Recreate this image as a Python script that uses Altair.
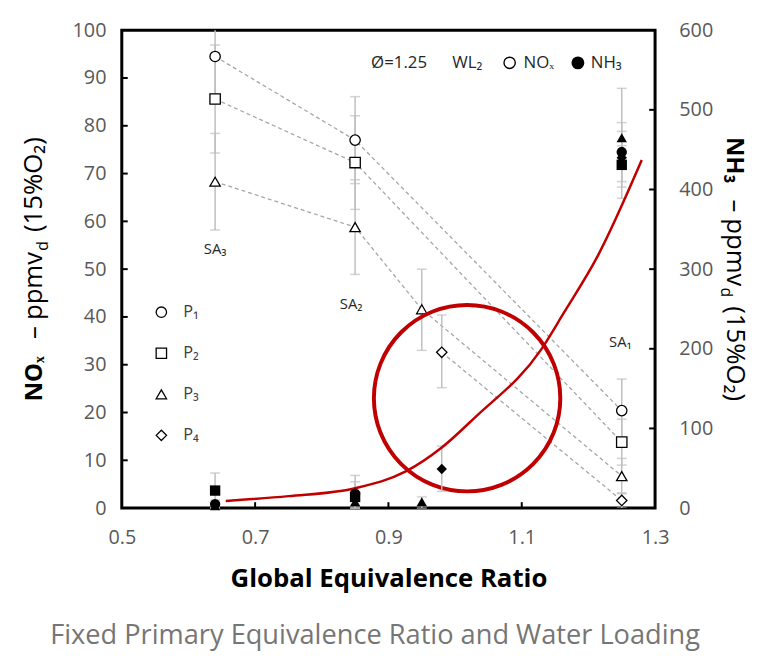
import altair as alt
import pandas as pd

FONT = "Open Sans"

# ---------------- data ----------------
series_names = ["P₁", "P₂", "P₃", "P₄"]
series_shapes = ["circle", "square", "triangle-up", "diamond"]

# NOx (left axis) - open markers
p1_phi = [0.64, 0.85, 1.25]
p1_nox = [94.5, 77.0, 20.4]
p1_nox_lo = [85.5, 67.9, 13.8]
p1_nox_hi = [103.5, 86.1, 27.0]

p2_phi = [0.64, 0.85, 1.25]
p2_nox = [85.6, 72.3, 13.8]
p2_nox_lo = [74.3, 62.5, 9.0]
p2_nox_hi = [96.9, 82.1, 18.6]

p3_phi = [0.64, 0.85, 0.95, 1.25]
p3_nox = [68.3, 58.8, 41.6, 6.7]
p3_nox_lo = [58.2, 48.9, 33.0, 3.0]
p3_nox_hi = [78.4, 68.7, 50.0, 10.4]

p4_phi = [0.98, 1.25]
p4_nox = [32.6, 1.6]
p4_nox_lo = [25.2, 0.0]
p4_nox_hi = [40.4, 3.2]

# NH3 (right axis) - filled markers
p1_nh3 = [5, 18, 447]
p1_nh3_lo = [0, 0, 410]
p1_nh3_hi = [10, 41, 484]

p2_nh3 = [22, 14, 431]
p2_nh3_lo = [0, 0, 389]
p2_nh3_hi = [44, 33, 473]

p3_nh3 = [3, 8, 8, 465]
p3_nh3_lo = [0, 0, 0, 403]
p3_nh3_hi = [6, 16, 14, 527]

p4_nh3 = [49, 440]
p4_nh3_lo = [21, 425]
p4_nh3_hi = [78, 455]

# red NH3 trend curve
trend_phi = [0.656, 0.75, 0.85, 0.926, 0.98, 1.03, 1.129, 1.163, 1.213, 1.28]
trend_nh3 = [9, 15, 25, 46, 76, 114, 199, 245, 315, 437]

# highlighted region (red circle)
ring_phi = [1.018]
ring_nox = [23.0]

# stage labels
stage_labels = ["SA₃", "SA₂", "SA₁"]
stage_phi = [0.64, 0.844, 1.248]
stage_nox = [54.2, 42.8, 34.7]

x_ticks = [0.5, 0.7, 0.9, 1.1, 1.3]
left_ticks = list(range(0, 101, 10))
right_ticks = list(range(0, 601, 100))

caption = "Fixed Primary Equivalence Ratio and Water Loading"

# ---------------- tables ----------------
phis = [p1_phi, p2_phi, p3_phi, p4_phi]
nox = [p1_nox, p2_nox, p3_nox, p4_nox]
nox_lo = [p1_nox_lo, p2_nox_lo, p3_nox_lo, p4_nox_lo]
nox_hi = [p1_nox_hi, p2_nox_hi, p3_nox_hi, p4_nox_hi]
nh3 = [p1_nh3, p2_nh3, p3_nh3, p4_nh3]
nh3_lo = [p1_nh3_lo, p2_nh3_lo, p3_nh3_lo, p4_nh3_lo]
nh3_hi = [p1_nh3_hi, p2_nh3_hi, p3_nh3_hi, p4_nh3_hi]

rows = []
for i, name in enumerate(series_names):
    for j, ph in enumerate(phis[i]):
        rows.append(dict(series=name, phi=ph,
                         nox=nox[i][j], nox_lo=nox_lo[i][j], nox_hi=nox_hi[i][j],
                         nh3=nh3[i][j], nh3_lo=nh3_lo[i][j], nh3_hi=nh3_hi[i][j]))
df = pd.DataFrame(rows)
df_trend = pd.DataFrame({"phi": trend_phi, "nh3": trend_nh3})
df_ring = pd.DataFrame({"phi": ring_phi, "nox": ring_nox})
df_stage = pd.DataFrame({"label": stage_labels, "phi": stage_phi, "nox": stage_nox})
df_xt = pd.DataFrame({"phi": x_ticks[1:-1]})
df_lt = pd.DataFrame({"nox": left_ticks[1:-1]})
df_rt = pd.DataFrame({"nh3": right_ticks[1:-1]})

W, H = 539, 483
LABEL_COLOR = "#595959"
GRAY_BAR = "#BFBFBF"
RED = "#C00000"
TICK_FS = 20

x_scale = alt.Scale(domain=[0.5, 1.3], nice=False, zero=False)
x_axis = alt.Axis(values=x_ticks, format=".1f", title="Global Equivalence Ratio",
                  ticks=False, domain=False, grid=False, labelFlush=False,
                  labelFont=FONT, labelFontSize=TICK_FS, labelColor=LABEL_COLOR, labelPadding=20,
                  titleFont=FONT, titleFontSize=26, titleFontWeight="bold",
                  titleColor="black", titlePadding=18)
yl_scale = alt.Scale(domain=[0, 100], nice=False, zero=True)
yl_axis = alt.Axis(orient="left", values=left_ticks, title=None, ticks=False, domain=False,
                   grid=False, labelFont=FONT, labelFontSize=TICK_FS, labelColor=LABEL_COLOR,
                   labelPadding=16)
yr_scale = alt.Scale(domain=[0, 600], nice=False, zero=True)
yr_axis = alt.Axis(orient="right", values=right_ticks, title=None, ticks=False, domain=False,
                   grid=False, labelFont=FONT, labelFontSize=TICK_FS, labelColor=LABEL_COLOR,
                   labelPadding=24)

X = lambda f="phi": alt.X(f"{f}:Q", scale=x_scale, axis=x_axis)
YL = lambda f: alt.Y(f"{f}:Q", scale=yl_scale, axis=yl_axis)
YR = lambda f: alt.Y(f"{f}:Q", scale=yr_scale, axis=yr_axis)

shape_scale = alt.Scale(domain=series_names, range=series_shapes)

base = alt.Chart(df)

# ----- NOx (left) group -----
dashed = base.mark_line(color="#A6A6A6", strokeWidth=1.3, strokeDash=[4, 3]).encode(
    x=X(), y=YL("nox"), detail="series:N", order="phi:Q")
nox_bar = base.mark_rule(color=GRAY_BAR, strokeWidth=1.5, clip=True).encode(
    x=X(), y=YL("nox_lo"), y2="nox_hi:Q")
nox_cap_lo = base.mark_point(shape="stroke", size=100, color=GRAY_BAR, strokeWidth=1.5,
                             clip=True).encode(x=X(), y=YL("nox_lo"))
nox_cap_hi = base.mark_point(shape="stroke", size=100, color=GRAY_BAR, strokeWidth=1.5,
                             clip=True).encode(x=X(), y=YL("nox_hi"))
nox_pts = base.mark_point(filled=False, fill="white", stroke="black", strokeWidth=1.3,
                          size=110, opacity=1).encode(
    x=X(), y=YL("nox"),
    shape=alt.Shape("series:N", scale=shape_scale, legend=None))
stage_txt = alt.Chart(df_stage).mark_text(font=FONT, fontSize=15, color="#262626",
                                          align="center", baseline="middle").encode(
    x=X(), y=YL("nox"), text="label:N")
ring = alt.Chart(df_ring).mark_point(shape="circle", size=35500, stroke=RED,
                                     strokeWidth=4, filled=False, opacity=1).encode(
    x=X(), y=YL("nox"))
x_in_ticks = alt.Chart(df_xt).mark_rule(color="black", strokeWidth=2).encode(
    x=X(), y=alt.value(H - 6), y2=alt.value(H))
l_in_ticks = alt.Chart(df_lt).mark_rule(color="black", strokeWidth=2).encode(
    y=YL("nox"), x=alt.value(0), x2=alt.value(6))

left = alt.layer(dashed, nox_bar, nox_cap_lo, nox_cap_hi, nox_pts, stage_txt,
                 x_in_ticks, l_in_ticks, ring)

# ----- NH3 (right) group -----
nh3_bar = base.mark_rule(color=GRAY_BAR, strokeWidth=1.5).encode(
    x=X(), y=YR("nh3_lo"), y2="nh3_hi:Q")
nh3_cap_hi = base.mark_point(shape="stroke", size=100, color=GRAY_BAR, strokeWidth=1.5).encode(
    x=X(), y=YR("nh3_hi"))
nh3_cap_lo = base.mark_point(shape="stroke", size=100, color=GRAY_BAR, strokeWidth=1.5).encode(
    x=X(), y=YR("nh3_lo"))
trend = alt.Chart(df_trend).mark_line(color=RED, strokeWidth=2.5, interpolate="monotone").encode(
    x=X(), y=YR("nh3"))
nh3_pts = base.mark_point(filled=True, color="black", size=110, opacity=1).encode(
    x=X(), y=YR("nh3"),
    shape=alt.Shape("series:N", scale=shape_scale, legend=None))
r_in_ticks = alt.Chart(df_rt).mark_rule(color="black", strokeWidth=2).encode(
    y=YR("nh3"), x=alt.value(W - 6), x2=alt.value(W))

right = alt.layer(nh3_bar, nh3_cap_hi, nh3_cap_lo, trend, nh3_pts, r_in_ticks)


# ----- annotations (layout text) -----
def txt(s, x, y, size=17, weight="normal", color="#262626", align="left", baseline="middle",
        angle=0, dx=0, dy=0):
    return alt.Chart(pd.DataFrame({"t": [s]})).mark_text(
        font=FONT, fontSize=size, fontWeight=weight, color=color, align=align,
        baseline=baseline, angle=angle, dx=dx, dy=dy).encode(
        x=alt.value(x), y=alt.value(y), text="t:N")


annot = [
    txt("Ø=1.25", 252, 33),
    txt("WL₂", 334, 33),
    txt("NOₓ", 406, 33),
    txt("NH₃", 474, 33),
    alt.Chart(pd.DataFrame({"t": ["NOₓ"]})).mark_point(shape="circle", size=130, filled=False,
                                                     stroke="black", strokeWidth=1.4, opacity=1).encode(
        x=alt.value(392), y=alt.value(33)),
    alt.Chart(pd.DataFrame({"t": ["NH₃"]})).mark_point(shape="circle", size=170, filled=True,
                                                     color="black", opacity=1).encode(
        x=alt.value(461), y=alt.value(33)),
    txt(caption, 256, 612, size=27.5, color="#767676", align="center"),
]

# series key (P1..P4): open marker + label, one row each
LEG_X, LEG_Y0, LEG_STEP = 40, 285, 41.5
for i, (name, shp) in enumerate(zip(series_names, series_shapes)):
    yy = LEG_Y0 + LEG_STEP * i
    annot.append(alt.Chart(pd.DataFrame({"series": [name]})).mark_point(
        shape=shp, size=110, filled=False, fill="white", stroke="black", strokeWidth=1.3,
        opacity=1).encode(x=alt.value(LEG_X), y=alt.value(yy)))
    annot.append(txt(name, LEG_X + 22, yy, size=16.5, color="#404040"))

# axis titles (rotated, mixed styles); pieces placed along the text direction
BS, RS, SS = 24, 26, 16
pieces = [("bold", BS, 0, 0), ("normal", RS, 63, 0), ("normal", RS, 82, 0),
          ("normal", SS, 152, 6), ("normal", RS, 171, 0)]
left_txt = ["NOₓ", "–", "ppmv", "d", "(15%O₂)"]
right_txt = ["NH₃", "–", "ppmv", "d", "(15%O₂)"]
LX, LY = -81, 375
RX, RY = 612, 108
for s, (w, fs, dx, dy) in zip(left_txt, pieces):
    annot.append(txt(s, LX, LY, size=fs, weight=w, color="black", baseline="alphabetic",
                     angle=270, dx=dx, dy=dy))
for s, (w, fs, dx, dy) in zip(right_txt, pieces):
    annot.append(txt(s, RX, RY, size=fs, weight=w, color="black", baseline="alphabetic",
                     angle=90, dx=dx, dy=dy))

chart = alt.layer(left, right, *annot).resolve_scale(
    y="independent", shape="independent"
).properties(
    width=W, height=H,
    autosize=alt.AutoSizeParams(type="none"),
    padding={"left": 115, "top": 19, "right": 102, "bottom": 141},
    background="white",
).configure_view(stroke="black", strokeWidth=3)

chart.save("out.html", embed_options={"renderer": "svg", "actions": False})
